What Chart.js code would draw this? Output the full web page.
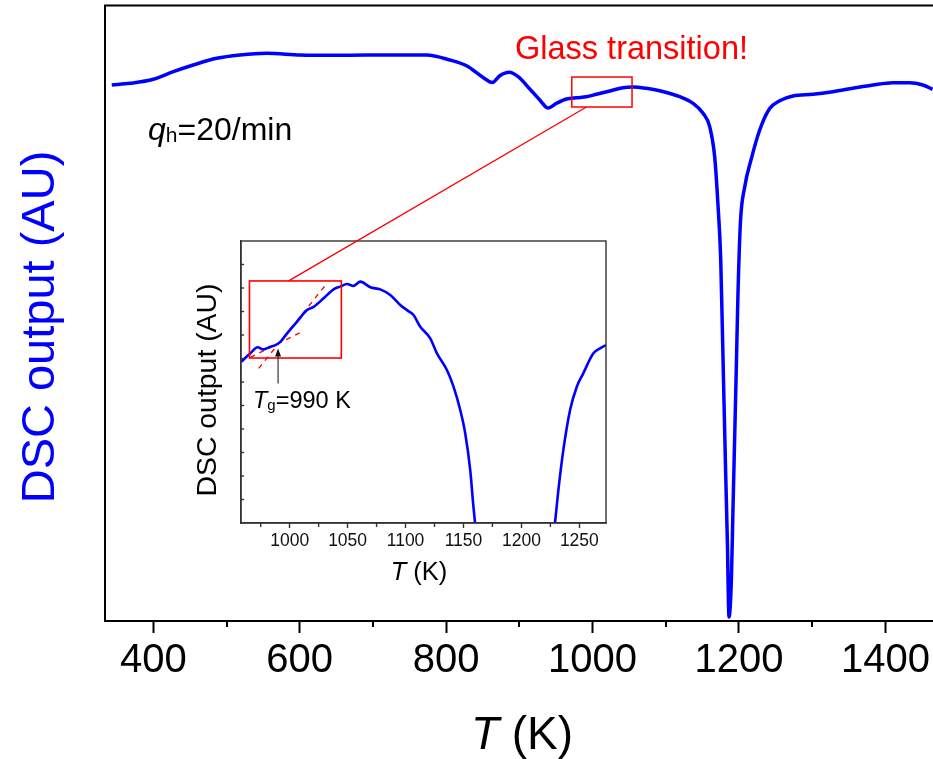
<!DOCTYPE html>
<html>
<head>
<meta charset="utf-8">
<title>DSC output vs T</title>
<script src="https://cdn.jsdelivr.net/npm/chart.js@4.4.1/dist/chart.umd.min.js"></script>
<style>
  html, body { margin: 0; padding: 0; background: #fff; overflow: hidden; }
  #wrap { position: relative; width: 933px; height: 759px; }
  #wrap canvas { position: absolute; left: 0; top: 0; }
</style>
</head>
<body>
<div id="wrap">
  <canvas id="mainChart" width="933" height="759"></canvas>
  <canvas id="insetChart" width="933" height="759"></canvas>
</div>
<script>
// ---- Main DSC scan (heating rate 20 K/min) ----
const tempK = [343.2, 368.2, 400.0, 427.3, 454.6, 486.6, 518.4, 554.8, 600.3, 645.7,
  691.3, 736.8, 773.2, 805.0, 827.8, 850.5, 863.1, 873.3, 886.3, 898.3,
  914.3, 927.9, 939.2, 950.7, 964.4, 978.0, 991.7, 1005.3, 1023.5, 1041.6,
  1055.3, 1073.6, 1091.7, 1119.0, 1137.2, 1150.9, 1160.0, 1166.8, 1171.3, 1175.0,
  1177.3, 1179.5, 1181.8, 1184.2, 1186.3, 1189.6, 1191.8, 1194.1, 1196.4, 1198.6,
  1201.9, 1207.8, 1216.9, 1228.3, 1241.9, 1255.6, 1273.7, 1301.0, 1328.3, 1355.6,
  1382.9, 1410.2, 1433.0, 1451.2, 1464.4];
const dscSignal = [87.09, 87.36, 88.01, 89.25, 90.33, 91.42, 91.96, 92.24, 91.96, 91.90,
  91.96, 91.96, 91.96, 91.15, 90.21, 88.30, 87.49, 88.59, 89.15, 88.43,
  86.43, 84.65, 83.35, 84.11, 84.81, 85.02, 85.17, 85.57, 86.11, 86.65,
  86.76, 86.55, 86.16, 85.18, 84.11, 82.49, 80.31, 75.38, 67.59, 58.88,
  47.28, 35.74, 24.05, 12.51, 0.65, 6.66, 18.26, 29.89, 41.48, 53.13,
  64.66, 70.51, 75.13, 79.77, 83.25, 84.53, 85.30, 85.57, 86.00, 86.55,
  87.08, 87.46, 87.46, 87.08, 86.38];
const xTickValues = [400, 600, 800, 1000, 1200, 1400];
const xMinorValues = [500, 700, 900, 1100, 1300];

// ---- Enlarged view around the glass transition ----
const insetTempK = [958.1, 966.1, 972.4, 977.1, 983.4, 987.7, 992.0, 997.8, 1006.4, 1015.0,
  1020.7, 1029.3, 1037.9, 1043.7, 1049.5, 1055.2, 1060.9, 1069.6, 1078.2, 1086.8,
  1095.4, 1101.2, 1106.9, 1112.7, 1121.3, 1127.1, 1135.7, 1141.4, 1147.2, 1151.5,
  1155.8, 1158.6, 1161.5, 1195.0, 1227.5, 1231.9, 1236.2, 1242.0, 1247.8, 1253.4,
  1262.1, 1267.8, 1273.0];
const insetSignal = [6.86, 7.22, 7.48, 7.39, 7.50, 7.57, 7.71, 8.07, 8.57, 9.06,
  9.20, 9.56, 9.94, 10.06, 10.17, 10.09, 10.27, 10.03, 9.94, 9.70,
  9.28, 9.06, 8.85, 8.35, 7.86, 7.22, 6.51, 5.80, 4.81, 3.82,
  2.26, 0.69, -0.72, null, -0.72, 1.40, 3.11, 4.81, 5.80, 6.37,
  7.22, 7.43, 7.57];
const insetTickValues = [1000, 1050, 1100, 1150, 1200, 1250];
const insetMinorValues = [975, 1025, 1075, 1125, 1175, 1225];
const insetYTicks = [1, 2, 3, 4, 5, 6, 7, 8, 9, 10, 11];

// Onset construction: extrapolated baseline and steepest tangent
const baselineTempK = [966.1, 1010.7];
const baselineSignal = [7.05, 8.14];
const tangentTempK = [973.3, 1032.2];
const tangentSignal = [6.58, 10.20];
const glassTransitionK = 990;
const arrowSignal = [5.94, 7.43];

// Highlight windows (main view and enlarged view)
const mainBoxT = [971.6, 1053.9];
const mainBoxS = [83.51, 88.38];
const insetBoxT = [965.3, 1044.6];
const insetBoxS = [7.02, 10.30];
const linkFrom = { t: 991.7, s: 83.51 };
const linkTo = { t: 999.1, s: 10.30 };

const FONT = '"Liberation Sans", Arial, Helvetica, sans-serif';
const BLUE = '#0000ff';
const RED = '#ff0000';

function toPoints(xs, ys) { return xs.map((x, i) => ({ x: x, y: ys[i] })); }
const plainNumber = v => String(v);

// Draws a row of text pieces (each with its own font / vertical shift)
function drawRuns(ctx, runs, x, baseline, align) {
  let total = 0;
  runs.forEach(r => { ctx.font = r.font; r.w = ctx.measureText(r.text).width; total += r.w; });
  let cx = align === 'center' ? x - total / 2 : x;
  ctx.textBaseline = 'alphabetic';
  ctx.textAlign = 'left';
  runs.forEach(r => {
    ctx.font = r.font;
    ctx.fillStyle = r.color || '#000';
    ctx.fillText(r.text, cx, baseline + (r.dy || 0));
    cx += r.w;
  });
}

const mainDecor = {
  id: 'mainDecor',
  afterDraw(chart) {
    const ctx = chart.ctx;
    const a = chart.chartArea;
    const xs = chart.scales.x, ys = chart.scales.y;
    ctx.save();
    // top frame line
    ctx.strokeStyle = '#000';
    ctx.lineWidth = 2;
    ctx.beginPath();
    ctx.moveTo(a.left - 1, a.top);
    ctx.lineTo(a.right, a.top);
    ctx.stroke();
    // minor ticks on the T axis
    xMinorValues.forEach(v => {
      const px = Math.round(xs.getPixelForValue(v));
      ctx.beginPath();
      ctx.moveTo(px, a.bottom);
      ctx.lineTo(px, a.bottom + 6);
      ctx.stroke();
    });
    // glass-transition window
    ctx.strokeStyle = RED;
    ctx.lineWidth = 1.5;
    const bx0 = xs.getPixelForValue(mainBoxT[0]), bx1 = xs.getPixelForValue(mainBoxT[1]);
    const by0 = ys.getPixelForValue(mainBoxS[1]), by1 = ys.getPixelForValue(mainBoxS[0]);
    ctx.strokeRect(bx0, by0, bx1 - bx0, by1 - by0);
    // annotations
    drawRuns(ctx, [{ text: 'Glass transition!', font: '32.5px ' + FONT, color: RED }], 515, 59.3, 'left');
    drawRuns(ctx, [
      { text: 'q', font: 'italic 32px ' + FONT },
      { text: 'h', font: '21px ' + FONT, dy: 2 },
      { text: '=20/min', font: '32px ' + FONT }
    ], 148, 140, 'left');
    // axis titles
    drawRuns(ctx, [
      { text: 'T', font: 'italic 46px ' + FONT },
      { text: ' (K)', font: '46px ' + FONT }
    ], 522, 749, 'center');
    ctx.translate(54, 327);
    ctx.rotate(-Math.PI / 2);
    ctx.font = '47px ' + FONT;
    ctx.fillStyle = BLUE;
    ctx.textAlign = 'center';
    ctx.textBaseline = 'alphabetic';
    ctx.fillText('DSC output (AU)', 0, 0);
    ctx.restore();
  }
};

const mainChart = new Chart(document.getElementById('mainChart'), {
  type: 'line',
  data: {
    datasets: [{
      data: toPoints(tempK, dscSignal),
      borderColor: BLUE,
      borderWidth: 3.5,
      pointRadius: 0,
      fill: false,
      cubicInterpolationMode: 'monotone'
    }]
  },
  options: {
    responsive: false,
    animation: false,
    devicePixelRatio: 1,
    layout: { padding: { left: 0, right: 0, top: 5.5, bottom: 0 } },
    plugins: { legend: { display: false }, tooltip: { enabled: false } },
    scales: {
      x: {
        type: 'linear', min: 334, max: 1465,
        afterBuildTicks: s => { s.ticks = xTickValues.map(v => ({ value: v })); },
        afterFit: s => { s.height = 138; s.paddingRight = 0; s.paddingLeft = 0; },
        grid: { display: true, drawOnChartArea: false, drawTicks: true, tickLength: 12, tickWidth: 2, tickColor: '#000' },
        border: { display: true, color: '#000', width: 2 },
        ticks: { font: { family: FONT, size: 40 }, color: '#000', padding: 4, maxRotation: 0, autoSkip: false, callback: plainNumber }
      },
      y: {
        type: 'linear', min: 0, max: 100,
        afterFit: s => { s.width = 105; },
        ticks: { display: false },
        grid: { display: false, drawTicks: false },
        border: { display: true, color: '#000', width: 2 }
      }
    }
  },
  plugins: [mainDecor]
});

const insetDecor = {
  id: 'insetDecor',
  afterDraw(chart) {
    const ctx = chart.ctx;
    const a = chart.chartArea;
    const xs = chart.scales.x, ys = chart.scales.y;
    ctx.save();
    // frame
    ctx.strokeStyle = '#333';
    ctx.lineWidth = 1.4;
    ctx.strokeRect(a.left, a.top, a.right - a.left, a.bottom - a.top);
    // inward ticks on the signal axis
    insetYTicks.forEach(v => {
      const py = ys.getPixelForValue(v);
      ctx.beginPath();
      ctx.moveTo(a.left, py);
      ctx.lineTo(a.left + 3, py);
      ctx.stroke();
    });
    // minor ticks on T axis
    insetMinorValues.forEach(v => {
      const px = xs.getPixelForValue(v);
      ctx.beginPath();
      ctx.moveTo(px, a.bottom);
      ctx.lineTo(px, a.bottom + 4);
      ctx.stroke();
    });
    // highlight window and link to the main view
    ctx.strokeStyle = RED;
    ctx.lineWidth = 1.6;
    const bx0 = xs.getPixelForValue(insetBoxT[0]), bx1 = xs.getPixelForValue(insetBoxT[1]);
    const by0 = ys.getPixelForValue(insetBoxS[1]), by1 = ys.getPixelForValue(insetBoxS[0]);
    ctx.strokeRect(bx0, by0, bx1 - bx0, by1 - by0);
    const mx = mainChart.scales.x, my = mainChart.scales.y;
    ctx.lineWidth = 1.4;
    ctx.beginPath();
    ctx.moveTo(mx.getPixelForValue(linkFrom.t), my.getPixelForValue(linkFrom.s));
    ctx.lineTo(xs.getPixelForValue(linkTo.t), ys.getPixelForValue(linkTo.s));
    ctx.stroke();
    // Tg arrow
    const ax = xs.getPixelForValue(glassTransitionK);
    const ay0 = ys.getPixelForValue(arrowSignal[0]);
    const ay1 = ys.getPixelForValue(arrowSignal[1]);
    ctx.strokeStyle = '#333';
    ctx.fillStyle = '#111';
    ctx.lineWidth = 1.2;
    ctx.beginPath();
    ctx.moveTo(ax, ay0);
    ctx.lineTo(ax, ay1 + 6);
    ctx.stroke();
    ctx.beginPath();
    ctx.moveTo(ax, ay1);
    ctx.lineTo(ax - 3, ay1 + 8);
    ctx.lineTo(ax + 3, ay1 + 8);
    ctx.closePath();
    ctx.fill();
    drawRuns(ctx, [
      { text: 'T', font: 'italic 23.5px ' + FONT },
      { text: 'g', font: '15px ' + FONT, dy: 2 },
      { text: '=990 K', font: '23.5px ' + FONT }
    ], 253, 407.5, 'left');
    // axis titles
    drawRuns(ctx, [
      { text: 'T', font: 'italic 25.5px ' + FONT },
      { text: ' (K)', font: '25.5px ' + FONT }
    ], 419, 580, 'center');
    ctx.translate(216, 390);
    ctx.rotate(-Math.PI / 2);
    ctx.font = '28.4px ' + FONT;
    ctx.fillStyle = '#000';
    ctx.textAlign = 'center';
    ctx.textBaseline = 'alphabetic';
    ctx.fillText('DSC output (AU)', 0, 0);
    ctx.restore();
  }
};

const insetChart = new Chart(document.getElementById('insetChart'), {
  type: 'line',
  data: {
    datasets: [
      {
        data: toPoints(insetTempK, insetSignal),
        borderColor: BLUE,
        borderWidth: 2.6,
        pointRadius: 0,
        fill: false,
        spanGaps: false,
        cubicInterpolationMode: 'monotone'
      },
      {
        data: toPoints(baselineTempK, baselineSignal),
        borderColor: RED,
        borderWidth: 1.3,
        borderDash: [5, 5],
        pointRadius: 0,
        fill: false
      },
      {
        data: toPoints(tangentTempK, tangentSignal),
        borderColor: RED,
        borderWidth: 1.3,
        borderDash: [5, 5],
        pointRadius: 0,
        fill: false
      }
    ]
  },
  options: {
    responsive: false,
    animation: false,
    devicePixelRatio: 1,
    layout: { padding: { left: 241, right: 327, top: 241, bottom: 196 } },
    plugins: { legend: { display: false }, tooltip: { enabled: false } },
    scales: {
      x: {
        type: 'linear', min: 958, max: 1273,
        afterBuildTicks: s => { s.ticks = insetTickValues.map(v => ({ value: v })); },
        afterFit: s => { s.height = 40; },
        grid: { display: true, drawOnChartArea: false, drawTicks: true, tickLength: 5, tickWidth: 1.4, tickColor: '#333' },
        border: { display: true, color: '#333', width: 1.4 },
        ticks: { font: { family: FONT, size: 17.5 }, color: '#111', padding: 3, maxRotation: 0, autoSkip: false, callback: plainNumber }
      },
      y: {
        type: 'linear', min: 0, max: 12,
        afterFit: s => { s.width = 0; },
        ticks: { display: false },
        grid: { display: false, drawTicks: false },
        border: { display: true, color: '#333', width: 1.4 }
      }
    }
  },
  plugins: [insetDecor]
});
</script>
</body>
</html>
